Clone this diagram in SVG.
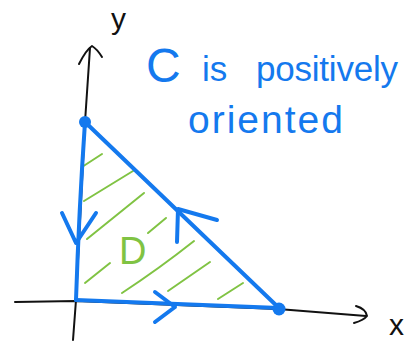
<svg xmlns="http://www.w3.org/2000/svg" width="420" height="342" viewBox="0 0 420 342">
<style>
.ax{fill:none;stroke:#111;stroke-width:2;stroke-linecap:round;stroke-linejoin:round}
.edge{fill:none;stroke:#1479ee;stroke-width:4;stroke-linecap:round;stroke-linejoin:round}
.hatch{fill:none;stroke:#80c343;stroke-width:2;stroke-linecap:round}
.dot{fill:#1479ee}
.blue{fill:#1479ee;font-family:"Liberation Sans",Arial,sans-serif}
.green{fill:#80c343;font-family:"Liberation Sans",Arial,sans-serif}
.black{fill:#111;font-family:"Liberation Sans",Arial,sans-serif}
</style>
<rect width="420" height="342" fill="#fff"/>
<g id="axes">
  <g id="y-axis">
    <path class="ax" d="M73,340 L76,300 L85,122 L90,48"/>
    <path class="ax" d="M79,64 Q86,50 92,46 Q97,49 102,57"/>
    <text class="black" x="111" y="29" font-size="30">y</text>
  </g>
  <g id="x-axis">
    <path class="ax" d="M15,302 L76,301 L278,309 L366,316"/>
    <path class="ax" d="M356,306 Q366,309 367,316 Q364,320 354,323"/>
    <text class="black" x="389" y="335" font-size="30">x</text>
  </g>
</g>
<g id="region-D">
  <path class="hatch" d="M82,167 L102,154 M84,201 L133,171 M87,239 L144,193 M148,233 L166,218 M85,283 L110,263 M122,293 Q160,268 194,241 M168,291 L210,262 M218,299 L243,283"/>
  <text class="green" x="119" y="264" font-size="38">D</text>
</g>
<g id="connectors">
  <path id="edge-left" class="edge" d="M85,122 Q79,210 76,300"/>
  <path id="edge-bottom" class="edge" d="M76,300 L279,308"/>
  <path id="edge-hyp" class="edge" d="M279,308 L85,122"/>
  <path class="edge" d="M62,213 L76,243 L96,213"/>
  <path class="edge" d="M155,292 L175,307 L155,322"/>
  <path class="edge" d="M177,242 L178,209 L217,220"/>
</g>
<g id="vertex-top"><circle class="dot" cx="85" cy="122" r="6"/></g>
<g id="vertex-right"><circle class="dot" cx="279" cy="309" r="6.5"/></g>
<g id="note">
  <text class="blue" font-size="35"><tspan x="146" y="82" font-size="48">C</tspan><tspan x="202" y="81">is</tspan><tspan x="256" y="81" textLength="142" lengthAdjust="spacing">positively</tspan></text>
  <text class="blue" x="188" y="133" font-size="39" textLength="155" lengthAdjust="spacing">oriented</text>
</g>
</svg>
